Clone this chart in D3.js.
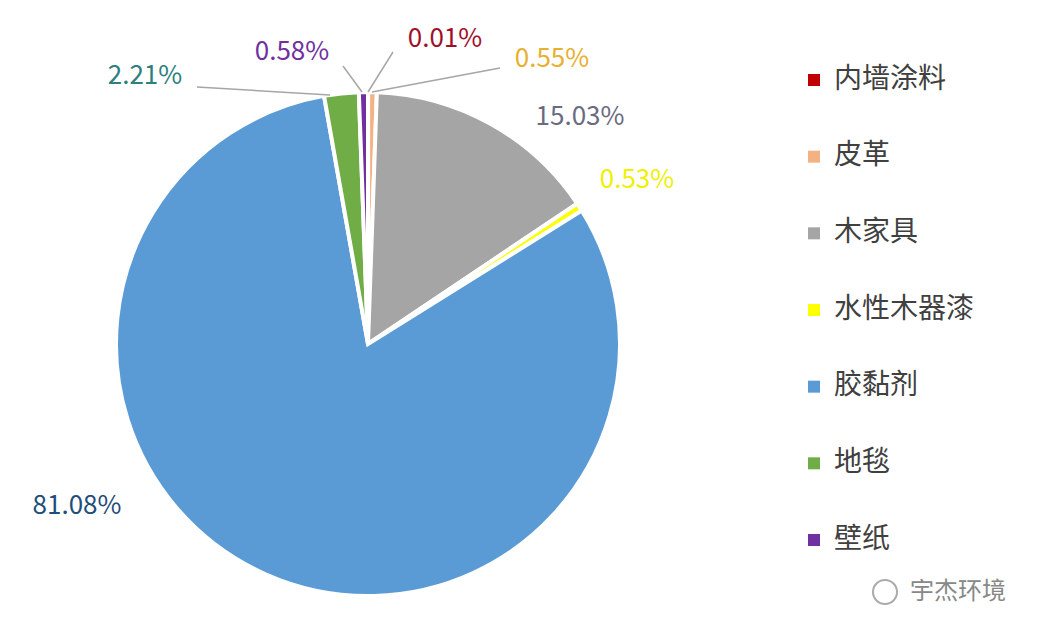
<!DOCTYPE html>
<html><head><meta charset="utf-8">
<script src="https://cdn.jsdelivr.net/npm/d3@7"></script>
<style>body{margin:0;background:#fff}</style></head>
<body><svg id="c" width="1046" height="636"></svg>
<script>
const categories=["内墙涂料","皮革","木家具","水性木器漆","胶黏剂","地毯","壁纸"];
const values=[0.01,0.55,15.03,0.53,81.08,2.21,0.58];
const labels=["0.01%","0.55%","15.03%","0.53%","81.08%","2.21%","0.58%"];
const colors=["#C00000","#F4B183","#A5A5A5","#FFFF00","#5B9BD5","#70AD47","#7030A0"];
const labelColors=["#A0102A","#E8B030","#6A6A80","#F0F000","#1F4E79","#2E8080","#7030A0"];
const labelPos=[[445,40],[552,60],[580,118],[637,181],[77,507],[145,77],[292,53]];
const leaders=[[[393,52],[368,92]],[[500,68],[372,92]],null,null,null,[[197,87],[330,95]],[[343,66],[362,92]]];
const svg=d3.select("#c"),font="'Noto Sans CJK SC','Noto Sans',sans-serif";
const cx=368,cy=344,r=252;
const pie=d3.pie().sort(null).value(d=>d)(values);
const arc=d3.arc().innerRadius(0).outerRadius(r);
const g=svg.append("g").attr("transform",`translate(${cx},${cy})`);
g.selectAll("path").data(pie).enter().append("path").attr("d",arc)
 .attr("fill",(d,i)=>colors[i]).attr("stroke","#fff").attr("stroke-width",4);
leaders.forEach(l=>{if(l)svg.append("line").attr("x1",l[0][0]).attr("y1",l[0][1]).attr("x2",l[1][0]).attr("y2",l[1][1]).attr("stroke","#A6A6A6").attr("stroke-width",1.5);});
labels.forEach((t,i)=>svg.append("text").attr("x",labelPos[i][0]).attr("y",labelPos[i][1]).attr("text-anchor","middle")
 .attr("dominant-baseline","middle").attr("font-family",font).attr("font-size",26).attr("fill",labelColors[i]).text(t));
const ly=d3.scalePoint().domain(categories).range([80,540]);
categories.forEach((c,i)=>{
 svg.append("rect").attr("x",808).attr("y",ly(c)-6).attr("width",12).attr("height",12).attr("fill",colors[i]);
 svg.append("text").attr("x",834).attr("y",ly(c)).attr("dominant-baseline","middle").attr("font-family",font)
  .attr("font-size",28).attr("fill","#404040").text(c);
});
svg.append("text").attr("x",910).attr("y",592).attr("dominant-baseline","middle").attr("font-family",font)
 .attr("font-size",24).attr("fill","#888").text("宇杰环境");
svg.append("circle").attr("cx",885).attr("cy",592).attr("r",12).attr("fill","none").attr("stroke","#aaa").attr("stroke-width",2);
</script></body></html>
